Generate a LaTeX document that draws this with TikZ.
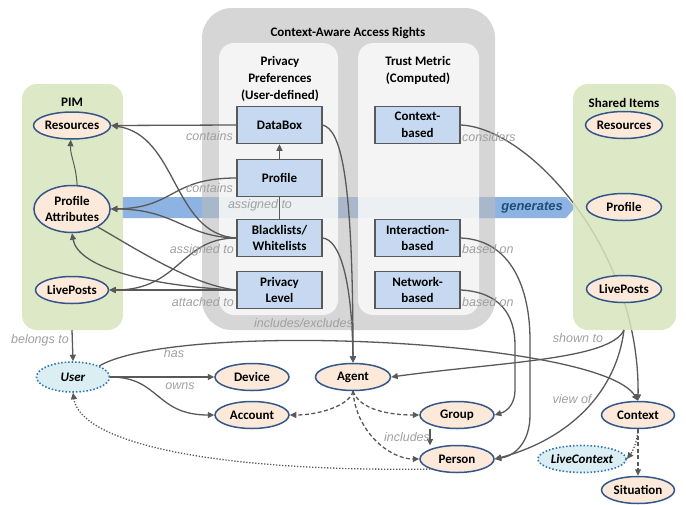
\documentclass[tikz,border=0pt]{standalone}
\usepackage{fontspec}
\setmainfont{Carlito}
\newfontfamily\labfont{Liberation Sans}
\usetikzlibrary{arrows.meta,shapes.geometric}
\definecolor{bandblue}{HTML}{8DB3E2}
\definecolor{outergray}{HTML}{BABABA}
\definecolor{innergray}{HTML}{FAFAFA}
\definecolor{pimgreen}{HTML}{D7E4BD}
\definecolor{boxblue}{HTML}{C6D9F1}
\definecolor{boxborder}{HTML}{595959}
\definecolor{ellfill}{HTML}{FDE9D9}
\definecolor{ellborder}{HTML}{34578A}
\definecolor{dotfill}{HTML}{DAEEF3}
\definecolor{dotborder}{HTML}{2E75B6}
\definecolor{linegray}{HTML}{595959}
\definecolor{labgray}{HTML}{A0A0A0}
\definecolor{genblue}{HTML}{1F4E79}
\begin{document}
\begin{tikzpicture}[x=1pt,y=-1pt,
  ell/.style={ellipse, draw=ellborder, line width=1.5pt, fill=ellfill, minimum width=73pt, minimum height=27pt, inner sep=0pt, font=\bfseries\fontsize{13}{16}\selectfont, align=center},
  dotell/.style={ell, draw=dotborder, dotted, line width=1.6pt, fill=dotfill, font=\bfseries\itshape\fontsize{13}{16}\selectfont},
  pbox/.style={rectangle, draw=boxborder, line width=1.5pt, fill=boxblue, minimum width=85pt, minimum height=37pt, inner sep=0pt, font=\bfseries\fontsize{13}{16.5}\selectfont, align=center},
  ttl/.style={font=\bfseries\fontsize{13}{17}\selectfont, align=center, inner sep=0pt},
  lab/.style={font=\labfont\itshape\fontsize{12.5}{14}\selectfont, text=labgray, inner sep=0pt},
  conn/.style={draw=linegray, line width=1.3pt},
  arr/.style={conn, -{Triangle[length=6.5pt,width=6pt]}},
  dsh/.style={arr, dash pattern=on 4pt off 2.5pt},
  dtt/.style={arr, dash pattern=on 1.3pt off 1.7pt}
]
\useasboundingbox (0,0) rectangle (686,504);
% generates band
\fill[bandblue] (122,197) -- (566,197) -- (575,207.5) -- (566,218) -- (122,218) -- cycle;
% context-aware panels
\fill[outergray, fill opacity=0.6, rounded corners=30pt] (202,8) rectangle (495,330);
\fill[innergray, fill opacity=0.85, rounded corners=15pt] (219,43) rectangle (338,315);
\fill[innergray, fill opacity=0.85, rounded corners=15pt] (358,43) rectangle (479,315);
% considers line (behind the green panel)
\node[pbox] (cb) at (417.5,125) {Context-\\based};
\node[ell] (ctx) at (638,415) {Context};
\draw[arr] (cb.east) .. controls (530,128) and (640,250) .. (ctx.north);
% green panels
\fill[pimgreen, fill opacity=0.85, rounded corners=15pt] (22,84) rectangle (123,330);
\fill[pimgreen, fill opacity=0.85, rounded corners=15pt] (573,84) rectangle (676,330);
\node[font=\labfont\bfseries\itshape\fontsize{13}{15}\selectfont, text=genblue, anchor=east, inner sep=0pt] (gen) at (563,207.5) {generates};
% titles
\node[ttl] (t1) at (348,33) {Context-Aware Access Rights};
\node[ttl] (t2) at (280,79) {Privacy\\Preferences\\(User-defined)};
\node[ttl] (t3) at (418,70.5) {Trust Metric\\(Computed)};
\node[ttl] (t4) at (72,102) {PIM};
\node[ttl] (t5) at (624,103) {Shared Items};
% PIM
\node[ell] (res) at (72,125.5) {Resources};
\node[ell, minimum height=47pt] (pa) at (72,209) {Profile\\Attributes};
\node[ell] (lp) at (72,290) {LivePosts};
% Shared items
\node[ell, minimum width=75pt] (sres) at (624,125) {Resources};
\node[ell, minimum width=75pt] (sprof) at (624,207) {Profile};
\node[ell, minimum width=75pt] (slp) at (624,289) {LivePosts};
% boxes
\node[pbox] (db) at (279.5,125) {DataBox};
\node[pbox] (pr) at (279.5,178) {Profile};
\node[pbox] (bl) at (279.5,238) {Blacklists/\\Whitelists};
\node[pbox] (pl) at (279.5,290) {Privacy\\Level};
\node[pbox] (ib) at (417.5,238) {Interaction-\\based};
\node[pbox] (nb) at (417.5,290) {Network-\\based};
% bottom nodes
\node[dotell, minimum height=30pt] (user) at (73,377) {User};
\node[ell, minimum width=74pt] (dev) at (252,377) {Device};
\node[ell, minimum width=74pt] (acc) at (252,415) {Account};
\node[ell, minimum width=75pt] (agent) at (353,377) {Agent};
\node[ell, minimum width=74pt] (grp) at (457,415) {Group};
\node[ell, minimum width=74pt] (pers) at (457,459) {Person};
\node[dotell, minimum width=74pt] (lctx) at (582,459) {LiveContext};
\node[ell] (sit) at (638,490) {Situation};
\coordinate (pimb) at (72,330);
\coordinate (sib) at (624,330);
% PIM connectors
\draw[arr] (db.west) -- (res.east);
\draw[arr] (pr.west) .. controls (170,178) and (175,208) .. (pa.east);
\draw[arr] (bl.west) .. controls (172,234) and (178,135) .. (res.east);
\draw[arr] (bl.west) .. controls (185,237) and (175,209) .. (pa.east);
\draw[arr] (bl.west) .. controls (180,238) and (180,290) .. (lp.east);
\draw[arr] (pl.west) -- (lp.east);
\draw[arr] (pl.west) .. controls (150,286) and (78,268) .. (pa.south);
\draw[conn] (pl.west) .. controls (190,285) and (130,245) .. (pa.-35);
\draw[arr, line width=1pt] (pa.78) .. controls (76,165) and (70,155) .. (res.-95);
\draw[conn] (bl.north) -- (pr.south);
\draw[arr] (pr.north) -- (db.south);
% to agent
\draw[arr] (db.east) .. controls (340,130) and (353,170) .. (agent.north);
\draw[arr] (bl.east) .. controls (340,240) and (352,280) .. (agent.north);
% trust metric
\draw[arr] (ib.east) .. controls (512,240) and (530,290) .. (530,340) -- (530,415) .. controls (530,442) and (515,456) .. (pers.east);
\draw[arr] (nb.east) .. controls (500,292) and (515,315) .. (515,345) -- (515,390) .. controls (515,403) and (508,411) .. (grp.east);
% shared items
\draw[arr] (sib) .. controls (610,360) and (500,362) .. (agent.east);
\draw[arr] (sib) .. controls (615,400) and (560,442) .. (pers.east);
% user
\draw[arr] (pimb) -- (user.north);
\draw[arr] (user.north east) .. controls (180,320) and (600,340) .. (ctx.north);
\draw[arr] (user.east) -- (dev.west);
\draw[arr] (user.east) .. controls (160,377) and (155,415) .. (acc.west);
% agent
\draw[dsh] (agent.south) .. controls (350,405) and (320,415) .. (acc.east);
\draw[dsh] (agent.south) .. controls (360,410) and (390,415) .. (grp.west);
\draw[dsh] (agent.south) .. controls (356,432) and (390,459) .. (pers.west);
\draw[arr] (430,428.5) -- (430,445.5);
\draw[dtt] (pers.south west) .. controls (200,472) and (80,440) .. (user.south);
% context
\draw[dtt] (ctx.south) .. controls (637,446) and (630,455) .. (lctx.east);
\draw[dsh] (ctx.south) -- (sit.north);
% labels
\node[lab, anchor=east] (l1) at (233,136) {contains};
\node[lab, anchor=east] (l2) at (233,188) {contains};
\node[lab] (l3) at (260,205) {assigned to};
\node[lab, anchor=east] (l4) at (234,250) {assigned to};
\node[lab, anchor=east] (l5) at (234,302) {attached to};
\node[lab, anchor=east] (l6) at (353,323) {includes/excludes};
\node[lab, anchor=west] (l7) at (462,137) {considers};
\node[lab, anchor=west] (l8) at (462,249) {based on};
\node[lab, anchor=west] (l9) at (462,302) {based on};
\node[lab, anchor=east] (l10) at (69,340) {belongs to};
\node[lab] (l11) at (174,353) {has};
\node[lab] (l12) at (180,386) {owns};
\node[lab] (l13) at (578,338) {shown to};
\node[lab] (l14) at (572,399) {view of};
\node[lab] (l15) at (407,437) {includes};
\end{tikzpicture}
\end{document}
